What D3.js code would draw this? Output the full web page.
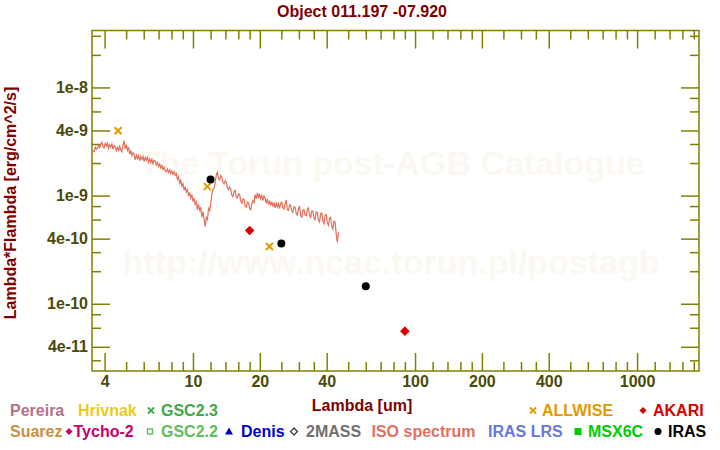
<!DOCTYPE html>
<html><head><meta charset="utf-8">
<script src="https://cdn.jsdelivr.net/npm/d3@7"></script>
<style>body{margin:0;background:#fff} svg text{font-family:"Liberation Sans",Arial,sans-serif;font-weight:bold}</style>
</head><body><svg id="c" width="720" height="450"></svg>
<script>
const title = "Object 011.197 -07.920";
const xTitle = "Lambda [um]";
const yTitle = "Lambda*Flambda [erg/cm^2/s]";

// ISO spectrum (wavelength in um)
const isoLambda = [
 3.548,3.589,3.631,3.673,3.715,3.758,3.802,3.846,3.890,3.935,
 3.981,4.027,4.074,4.121,4.169,4.217,4.266,4.315,4.365,4.416,
 4.467,4.519,4.571,4.624,4.677,4.732,4.786,4.842,4.898,4.955,
 5.012,5.070,5.129,5.188,5.248,5.309,5.370,5.433,5.495,5.559,
 5.623,5.689,5.754,5.821,5.888,5.957,6.026,6.095,6.166,6.237,
 6.310,6.383,6.457,6.531,6.607,6.683,6.761,6.839,6.918,6.998,
 7.079,7.161,7.244,7.328,7.413,7.499,7.586,7.674,7.762,7.852,
 7.943,8.035,8.128,8.222,8.318,8.414,8.511,8.610,8.710,8.811,
 8.913,9.016,9.120,9.226,9.333,9.441,9.550,9.661,9.772,9.886,
 10.00,10.12,10.23,10.35,10.47,10.59,10.72,10.84,10.96,11.09,
 11.22,11.35,11.48,11.61,11.75,11.88,12.02,12.16,12.30,12.44,
 12.59,12.74,12.88,13.03,13.18,13.34,13.49,13.65,13.80,13.96,
 14.13,14.29,14.45,14.62,14.79,14.96,15.14,15.31,15.49,15.67,
 15.85,16.03,16.22,16.41,16.60,16.79,16.98,17.18,17.38,17.58,
 17.78,17.99,18.20,18.41,18.62,18.84,19.05,19.27,19.50,19.72,
 19.95,20.18,20.42,20.65,20.89,21.13,21.38,21.63,21.88,22.13,
 22.39,22.65,22.91,23.18,23.44,23.71,23.99,24.27,24.55,24.83,
 25.12,25.41,25.70,26.00,26.30,26.60,26.92,27.23,27.54,27.86,
 28.18,28.51,28.84,29.17,29.51,29.85,30.20,30.55,30.90,31.26,
 31.62,31.99,32.36,32.73,33.11,33.49,33.88,34.27,34.67,35.07,
 35.48,35.89,36.31,36.73,37.15,37.58,38.02,38.46,38.90,39.35,
 39.81,40.27,40.74,41.21,41.69,42.17,42.66,43.15,43.65,44.16,
 44.67,45.19];
// lambda*F_lambda in erg/cm^2/s
const isoFlux = [
 2.60e-9,2.55e-9,2.80e-9,2.68e-9,2.74e-9,2.92e-9,2.78e-9,2.98e-9,3.12e-9,2.82e-9,
 2.76e-9,3.05e-9,2.88e-9,3.06e-9,2.74e-9,2.96e-9,2.82e-9,3.00e-9,2.68e-9,2.90e-9,
 2.84e-9,2.60e-9,2.80e-9,2.58e-9,2.86e-9,2.66e-9,2.55e-9,2.94e-9,3.22e-9,2.70e-9,
 2.96e-9,2.62e-9,2.80e-9,2.42e-9,2.62e-9,2.34e-9,2.50e-9,2.40e-9,2.14e-9,2.36e-9,
 2.20e-9,2.34e-9,2.10e-9,2.28e-9,2.16e-9,2.30e-9,2.06e-9,2.25e-9,2.12e-9,2.26e-9,
 2.04e-9,2.18e-9,2.02e-9,2.16e-9,1.97e-9,2.12e-9,2.08e-9,1.92e-9,2.03e-9,1.86e-9,
 1.96e-9,1.80e-9,1.90e-9,1.74e-9,1.83e-9,1.70e-9,1.66e-9,1.76e-9,1.64e-9,1.73e-9,
 1.60e-9,1.69e-9,1.58e-9,1.66e-9,1.54e-9,1.60e-9,1.42e-9,1.50e-9,1.30e-9,1.38e-9,
 1.22e-9,1.29e-9,1.12e-9,1.21e-9,1.08e-9,1.13e-9,0.99e-9,1.07e-9,0.95e-9,1.02e-9,
 0.88e-9,0.95e-9,0.83e-9,0.88e-9,0.74e-9,0.83e-9,0.72e-9,0.78e-9,0.63e-9,0.71e-9,
 0.60e-9,0.52e-9,0.64e-9,0.59e-9,0.76e-9,0.73e-9,0.84e-9,1.02e-9,1.14e-9,1.16e-9,
 1.32e-9,1.56e-9,1.64e-9,1.44e-9,1.40e-9,1.53e-9,1.48e-9,1.32e-9,1.28e-9,1.37e-9,
 1.33e-9,1.18e-9,1.13e-9,1.20e-9,1.16e-9,1.01e-9,0.98e-9,1.09e-9,1.12e-9,0.96e-9,
 0.95e-9,1.04e-9,1.02e-9,0.89e-9,0.85e-9,0.93e-9,0.92e-9,0.80e-9,0.78e-9,0.87e-9,
 0.86e-9,0.76e-9,0.74e-9,0.84e-9,0.90e-9,0.86e-9,1.02e-9,0.93e-9,1.06e-9,0.95e-9,
 1.04e-9,0.93e-9,1.00e-9,0.90e-9,0.99e-9,0.95e-9,0.85e-9,0.93e-9,0.83e-9,0.90e-9,
 0.81e-9,0.88e-9,0.79e-9,0.86e-9,0.77e-9,0.85e-9,0.78e-9,0.84e-9,0.76e-9,0.85e-9,
 0.87e-9,0.77e-9,0.75e-9,0.84e-9,0.91e-9,0.74e-9,0.73e-9,0.82e-9,0.81e-9,0.72e-9,
 0.70e-9,0.79e-9,0.78e-9,0.68e-9,0.66e-9,0.75e-9,0.80e-9,0.65e-9,0.63e-9,0.73e-9,
 0.74e-9,0.66e-9,0.65e-9,0.75e-9,0.77e-9,0.66e-9,0.63e-9,0.72e-9,0.72e-9,0.62e-9,
 0.60e-9,0.71e-9,0.70e-9,0.59e-9,0.57e-9,0.68e-9,0.69e-9,0.58e-9,0.55e-9,0.66e-9,
 0.67e-9,0.56e-9,0.53e-9,0.62e-9,0.63e-9,0.52e-9,0.49e-9,0.58e-9,0.57e-9,0.44e-9,
 0.37e-9,0.46e-9];

// Photometry
const allwiseLambda = [4.6, 11.6, 22.1];
const allwiseFlux = [3.98e-9, 1.21e-9, 3.38e-10];
const irasLambda = [12, 25, 60];
const irasFlux = [1.41e-9, 3.61e-10, 1.45e-10];
const akariLambda = [18, 90];
const akariFlux = [4.75e-10, 5.58e-11];

// Axes
const xMajorTicks = [4,10,20,40,100,200,400,1000];
const xMinorTicks = [5,6,7,8,9,12,14,16,18,25,30,35,50,60,70,80,90,120,140,160,180,250,300,350,500,600,700,800,900,1200,1400,1600,1800];
const yMajorTicks = [4e-11,1e-10,4e-10,1e-9,4e-9,1e-8];
const yMinorTicks = [3e-11,6e-11,8e-11,2e-10,3e-10,6e-10,8e-10,2e-9,3e-9,6e-9,8e-9,2e-8,3e-8];
const xDomain = [3.51, 1900];
const yDomain = [2.39e-11, 3.36e-8];

// Legend
const legendRow1 = ["Pereira","Hrivnak","GSC2.3","ALLWISE","AKARI"];
const legendRow2 = ["Suarez","Tycho-2","GSC2.2","Denis","2MASS","ISO spectrum","IRAS LRS","MSX6C","IRAS"];

const svg = d3.select("#c");
const L = 92, R = 699, T = 30.5, B = 371;
const x = d3.scaleLog().domain(xDomain).range([L, R]);
const y = d3.scaleLog().domain(yDomain).range([B, T]);
const axisColor = "#808000", tickText = "#4a4a0a", dark = "#800000";

// watermark
svg.append("text").attr("x", 392).attr("y", 175).attr("text-anchor","middle")
  .attr("font-size", 34).attr("fill", "#FBF8F2").text("The Torun post-AGB Catalogue");
svg.append("text").attr("x", 391).attr("y", 274).attr("text-anchor","middle")
  .attr("font-size", 34).attr("fill", "#FBF8F2").text("http://www.ncac.torun.pl/postagb");

const fmt = d => { const e = Math.floor(Math.log10(d) + 1e-9); const m = Math.round(d / Math.pow(10, e)); return m + "e" + e; };

function axis(gen, tr, ticks, size, labels, pad) {
  const g = svg.append("g").attr("transform", tr)
    .call(gen.tickValues(ticks).tickSize(size).tickSizeOuter(0).tickPadding(pad || 3)
      .tickFormat(labels ? labels : () => ""));
  g.select(".domain").remove();
  g.selectAll(".tick line").attr("stroke", axisColor).attr("stroke-width", 1.5);
  g.selectAll(".tick text").attr("fill", tickText).attr("font-size", 16)
    .attr("font-family", '"Liberation Sans",Arial,sans-serif').attr("font-weight", "bold");
  return g;
}
axis(d3.axisBottom(x), `translate(0,${B})`, xMajorTicks, -18, d => String(d), 5);
axis(d3.axisBottom(x), `translate(0,${B})`, xMinorTicks, -9, null);
axis(d3.axisTop(x), `translate(0,${T})`, xMajorTicks, -18, null);
axis(d3.axisTop(x), `translate(0,${T})`, xMinorTicks, -9, null);
axis(d3.axisLeft(y), `translate(${L},0)`, yMajorTicks, -18, fmt, 4);
axis(d3.axisLeft(y), `translate(${L},0)`, yMinorTicks, -9, null);
axis(d3.axisRight(y), `translate(${R},0)`, yMajorTicks, -18, null);
axis(d3.axisRight(y), `translate(${R},0)`, yMinorTicks, -9, null);

svg.append("rect").attr("x", L).attr("y", T).attr("width", R - L).attr("height", B - T)
  .attr("fill", "none").attr("stroke", axisColor).attr("stroke-width", 1.5);

// spectrum
const iso = isoLambda.map((l, i) => [l, isoFlux[i]]);
svg.append("path").datum(iso)
  .attr("d", d3.line().x(d => x(d[0])).y(d => y(d[1])))
  .attr("fill", "none").attr("stroke", "#E0705A").attr("stroke-width", 1.2);

const crossPath = s => `M${-s},${-s}L${s},${s}M${-s},${s}L${s},${-s}`;
const diamondPath = s => `M0,${-s}L${s},0L0,${s}L${-s},0Z`;

svg.append("g").selectAll("path").data(allwiseLambda).join("path")
  .attr("transform", (d, i) => `translate(${x(d)},${y(allwiseFlux[i])})`)
  .attr("d", crossPath(3.5)).attr("stroke", "#E09A00").attr("stroke-width", 2).attr("fill", "none");
svg.append("g").selectAll("circle").data(irasLambda).join("circle")
  .attr("cx", d => x(d)).attr("cy", (d, i) => y(irasFlux[i])).attr("r", 4).attr("fill", "#000");
svg.append("g").selectAll("path").data(akariLambda).join("path")
  .attr("transform", (d, i) => `translate(${x(d)},${y(akariFlux[i])})`)
  .attr("d", diamondPath(4.8)).attr("fill", "#DD0000");

// titles
svg.append("text").attr("x", 362).attr("y", 17).attr("text-anchor", "middle")
  .attr("font-size", 16).attr("fill", dark).text(title);
svg.append("text").attr("x", 362).attr("y", 411).attr("text-anchor", "middle")
  .attr("font-size", 16).attr("fill", dark).text(xTitle);
svg.append("text").attr("transform", "translate(16,203) rotate(-90)").attr("text-anchor", "middle")
  .attr("font-size", 16).attr("fill", dark).text(yTitle);

// legend
const legendColors1 = ["#B27188","#E8CC1A","#3EA84A","#E09A00","#DD0000"];
const legendX1 = [10, 78, 161, 542, 653];
const legendSym1 = [null, null, "x", "x", "d"];
const legendSymX1 = [0, 0, 151, 533, 643];
const legendColors2 = ["#C8903C","#C8006E","#5CC05C","#0000CC","#707070","#E07060","#6677DD","#00CC00","#000000"];
const legendX2 = [10, 73.5, 161, 241, 306, 371.5, 488, 588, 668];
const legendSym2 = [null, "d", "s", "t", "do", null, null, "sf", "c"];
const legendSymX2 = [0, 69, 150, 229, 294, 0, 0, 578, 658];

function sym(type, cx, cy, color) {
  const g = svg.append("g").attr("transform", `translate(${cx},${cy})`);
  if (type === "x") g.append("path").attr("d", crossPath(3)).attr("stroke", color).attr("stroke-width", 1.8);
  if (type === "d") g.append("path").attr("d", diamondPath(3.6)).attr("fill", color);
  if (type === "do") g.append("path").attr("d", diamondPath(3.5)).attr("fill", "none").attr("stroke", "#333").attr("stroke-width", 1.2);
  if (type === "s") g.append("rect").attr("x", -2.5).attr("y", -2.5).attr("width", 5).attr("height", 5).attr("fill", "none").attr("stroke", color).attr("stroke-width", 1.4);
  if (type === "sf") g.append("rect").attr("x", -3.5).attr("y", -3.5).attr("width", 7).attr("height", 7).attr("fill", color);
  if (type === "t") g.append("path").attr("d", "M0,-4L4,3L-4,3Z").attr("fill", color);
  if (type === "c") g.append("circle").attr("r", 3.5).attr("fill", color);
}
legendRow1.forEach((n, i) => {
  svg.append("text").attr("x", legendX1[i]).attr("y", 416).attr("font-size", 16).attr("fill", legendColors1[i]).text(n);
  if (legendSym1[i]) sym(legendSym1[i], legendSymX1[i], 410.5, legendColors1[i]);
});
legendRow2.forEach((n, i) => {
  svg.append("text").attr("x", legendX2[i]).attr("y", 437).attr("font-size", 16).attr("fill", legendColors2[i]).text(n);
  if (legendSym2[i]) sym(legendSym2[i], legendSymX2[i], 431.5, legendColors2[i]);
});
</script></body></html>
